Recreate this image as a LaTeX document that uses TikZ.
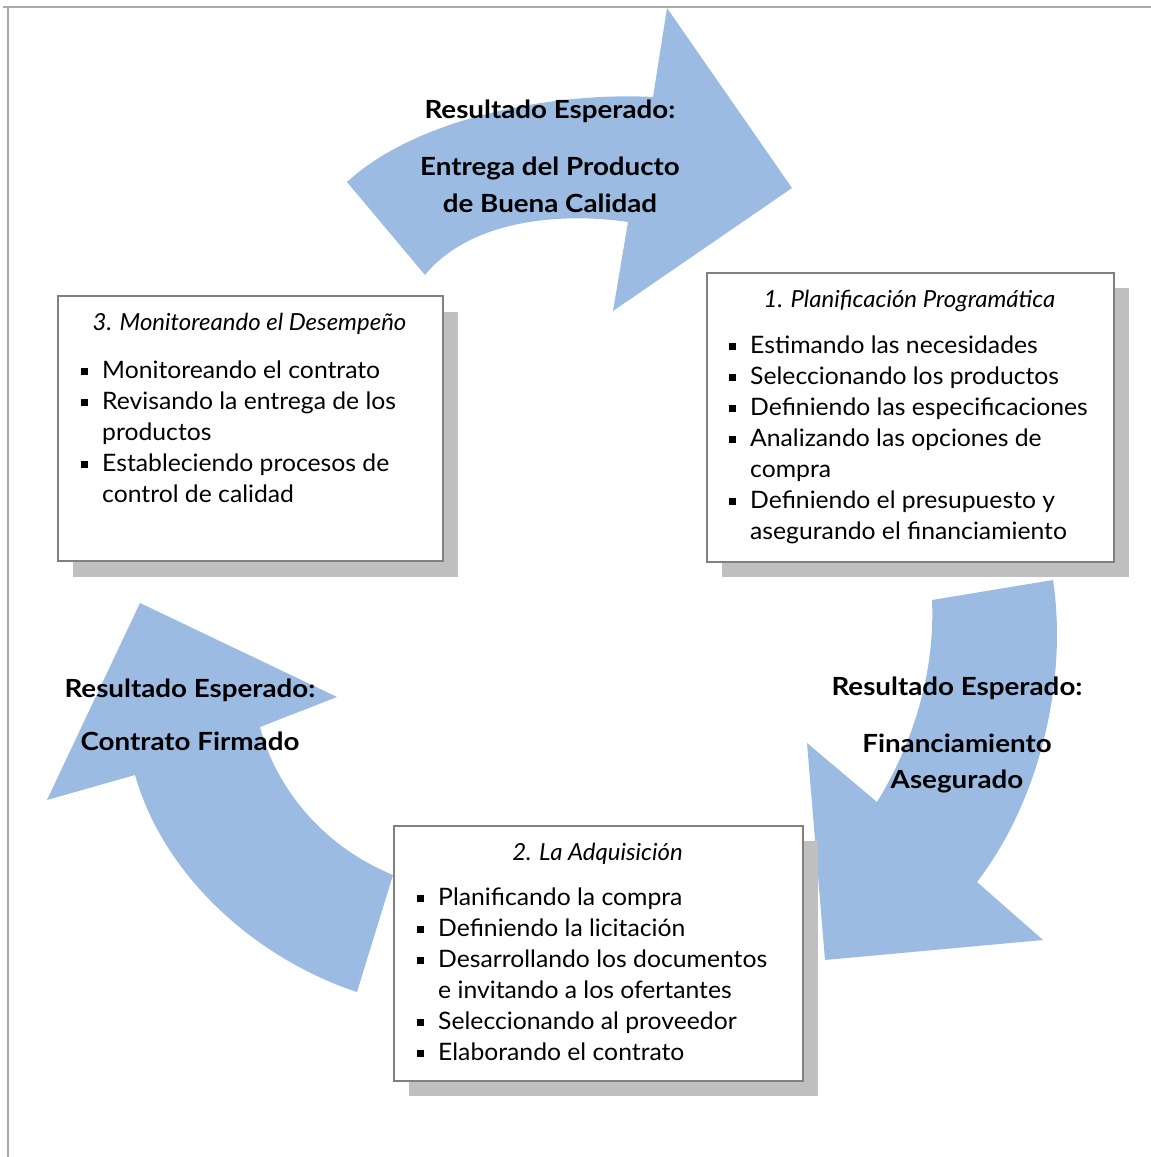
\documentclass[tikz,border=0pt]{standalone}
\usepackage{fontspec}
\setmainfont{Lato}
\usetikzlibrary{calc}
\definecolor{arrowblue}{RGB}{155,187,226}
\definecolor{shadowgray}{RGB}{192,192,192}
\definecolor{framegray}{RGB}{128,128,128}
\definecolor{linegray}{RGB}{170,170,170}
\newcommand\lst[1]{\vtop{\baselineskip=31pt\lineskiplimit=-50pt\lineskip=0pt #1}}
\newcommand\itm[1]{\hbox{\rule[3pt]{7pt}{7pt}\hspace{14pt}#1}}
\newcommand\cnt[1]{\hbox{\hspace{21pt}#1}}
\begin{document}
\begin{tikzpicture}[x=1pt,y=-1pt,
  cyclearrow/.style={fill=arrowblue, draw=none},
  shadowbox/.style={fill=shadowgray, draw=none, anchor=north west, inner sep=0pt},
  framebox/.style={fill=white, draw=framegray, line width=1.5pt, anchor=north west, inner sep=0pt},
  titletext/.style={font=\fontsize{23.5}{31}\selectfont\itshape\addfontfeature{FakeStretch=1.02}, anchor=base, inner sep=0pt},
  listtext/.style={font=\fontsize{24}{31}\selectfont\addfontfeature{FakeStretch=1.03}, anchor=base west, inner sep=0pt},
  resulttext/.style={font=\fontsize{25}{31}\selectfont\bfseries\addfontfeature{FakeStretch=1.11}, anchor=base, inner sep=0pt}]
\useasboundingbox (0,0) rectangle (1151,1157);
% page frame
\coordinate (fa) at (3,7);
\coordinate (fb) at (1151,7);
\coordinate (fc) at (8,7);
\coordinate (fd) at (8,1157);
\draw[linegray, line width=2pt] (fa) -- (fb);
\draw[linegray, line width=2pt] (fc) -- (fd);
% top arrow
\fill[cyclearrow] (347,182) .. controls (420,115) and (560,92) .. (653,97)
  -- (667,8) -- (792,188) -- (613,311) -- (628,222)
  .. controls (560,212) and (470,220) .. (425,275) -- cycle;
% right arrow
\fill[cyclearrow] (1053,580) .. controls (1068,680) and (1040,800) .. (977,882)
  -- (1043,940) -- (825,960) -- (807,743) -- (877,802)
  .. controls (915,740) and (935,670) .. (932,600) -- cycle;
% left arrow
\fill[cyclearrow] (393,875) .. controls (320,845) and (275,785) .. (260,727)
  -- (337,697) -- (140,603) -- (47,800) -- (135,775)
  .. controls (165,880) and (260,960) .. (357,992) -- cycle;
% boxes
\node[shadowbox, minimum width=407pt, minimum height=289pt] (s1) at (722,288) {};
\node[framebox, minimum width=407pt, minimum height=289pt] (b1) at (706,272) {};
\node[shadowbox, minimum width=385pt, minimum height=265pt] (s3) at (73,312) {};
\node[framebox, minimum width=385pt, minimum height=265pt] (b3) at (57,295) {};
\node[shadowbox, minimum width=409pt, minimum height=255pt] (s2) at (409,841) {};
\node[framebox, minimum width=409pt, minimum height=255pt] (b2) at (393,825) {};
% box 1 text
\node[titletext] (t1) at (909.5,307) {1. Planificación Programática};
\node[listtext] (l1) at (729,353) {\lst{%
  \itm{Estimando las necesidades}%
  \itm{Seleccionando los productos}%
  \itm{Definiendo las especificaciones}%
  \itm{Analizando las opciones de}%
  \cnt{compra}%
  \itm{Definiendo el presupuesto y}%
  \cnt{asegurando el financiamiento}}};
% box 3 text
\node[titletext] (t3) at (249.5,330) {3. Monitoreando el Desempeño};
\node[listtext] (l3) at (81,378) {\lst{%
  \itm{Monitoreando el contrato}%
  \itm{Revisando la entrega de los}%
  \cnt{productos}%
  \itm{Estableciendo procesos de}%
  \cnt{control de calidad}}};
% box 2 text
\node[titletext] (t2) at (597.5,860) {2. La Adquisición};
\node[listtext] (l2) at (417,905) {\lst{%
  \itm{Planificando la compra}%
  \itm{Definiendo la licitación}%
  \itm{Desarrollando los documentos}%
  \cnt{e invitando a los ofertantes}%
  \itm{Seleccionando al proveedor}%
  \itm{Elaborando el contrato}}};
% result labels
\node[resulttext] (ra1) at (550,118) {Resultado Esperado:};
\node[resulttext] (ra2) at (550,175) {Entrega del Producto};
\node[resulttext] (ra3) at (550,212) {de Buena Calidad};
\node[resulttext] (rb1) at (957,695) {Resultado Esperado:};
\node[resulttext] (rb2) at (957,752) {Financiamiento};
\node[resulttext] (rb3) at (957,788) {Asegurado};
\node[resulttext] (rc1) at (190,697) {Resultado Esperado:};
\node[resulttext] (rc2) at (190,750) {Contrato Firmado};
\end{tikzpicture}
\end{document}
